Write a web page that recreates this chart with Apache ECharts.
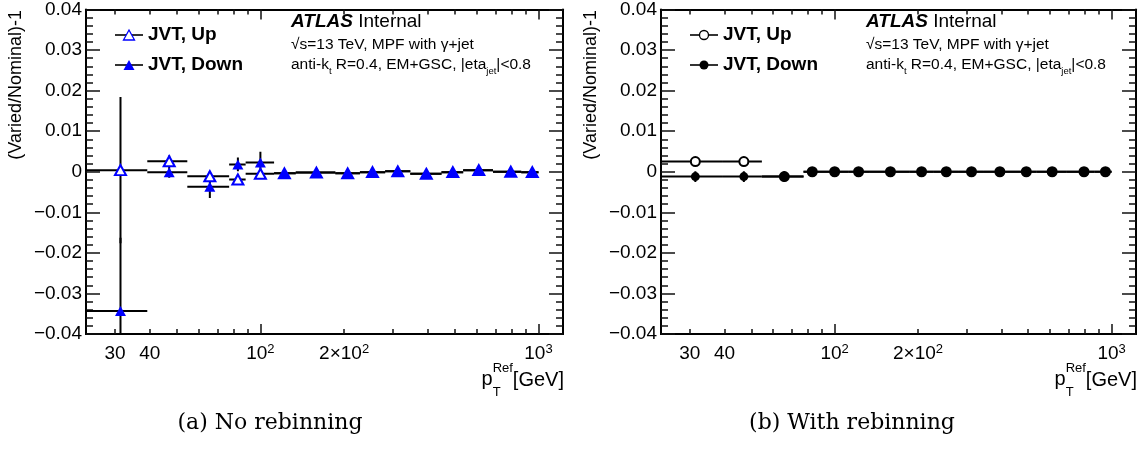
<!DOCTYPE html>
<html>
<head>
<meta charset="utf-8">
<script src="https://cdn.jsdelivr.net/npm/echarts@6/dist/echarts.min.js"></script>
<style>
  html, body { margin: 0; padding: 0; background: #fff; }
  #chart { width: 1148px; height: 449px; }
</style>
</head>
<body>
<div id="chart"></div>
<script>
// pT^Ref bins in GeV: marker position and horizontal extent of each bin
const ptMean = [31.4, 47.0, 65.8, 83.0, 100, 122, 159, 206, 253, 312, 395, 492, 610, 795, 950];
const ptLow  = [23.6, 39.2, 54.6, 77.2, 88.5, 112, 134, 186, 228, 281, 346, 448, 536, 686, 867];
const ptHigh = [39.2, 54.6, 77.2, 88.5, 112, 134, 186, 228, 281, 346, 448, 536, 686, 867, 1000];

// (a) no rebinning: (Varied/Nominal)-1 and statistical errors
const noRebinUp      = [0.0004, 0.0026, -0.0011, -0.0019, -0.0005, -0.0004, -0.0002, -0.0004, -0.0001, 0.0001, -0.0005, -0.0001, 0.0004, 0.0000, -0.0001];
const noRebinUpErr   = [0.0180, 0.0014, 0.0012, 0.0012, 0.0012, 0.0004, 0.0003, 0.0003, 0.0003, 0.0003, 0.0003, 0.0003, 0.0003, 0.0003, 0.0003];
const noRebinDown    = [-0.0343, -0.0001, -0.0037, 0.0018, 0.0023, -0.0004, -0.0002, -0.0004, -0.0001, 0.0001, -0.0005, -0.0001, 0.0004, 0.0000, -0.0001];
const noRebinDownErr = [0.0180, 0.0014, 0.0028, 0.0017, 0.0026, 0.0004, 0.0003, 0.0003, 0.0003, 0.0003, 0.0003, 0.0003, 0.0003, 0.0003, 0.0003];

// (b) with rebinning
const rebinUp      = [0.0025, 0.0025, -0.0012, 0, 0, 0, 0, 0, 0, 0, 0, 0, 0, 0, 0];
const rebinUpErr   = [0.0002, 0.0002, 0.0002, 0.0002, 0.0002, 0.0002, 0.0002, 0.0002, 0.0002, 0.0002, 0.0002, 0.0002, 0.0002, 0.0002, 0.0002];
const rebinDown    = [-0.0012, -0.0012, -0.0012, 0, 0, 0, 0, 0, 0, 0, 0, 0, 0, 0, 0];
const rebinDownErr = [0.0013, 0.0013, 0.0013, 0.0002, 0.0002, 0.0002, 0.0002, 0.0002, 0.0002, 0.0002, 0.0002, 0.0002, 0.0002, 0.0002, 0.0002];

// axis ranges and tick marks
const X_MIN = 23.6, X_MAX = 1225;
const Y_MIN = -0.04, Y_MAX = 0.04, Y_STEP = 0.01;
const majorTickPt = [100, 1000];
const minorTickPt = [30, 40, 50, 60, 70, 80, 90, 200, 300, 400, 500, 600, 700, 800, 900];
const tickLabelPt = [30, 40, 100, 200, 1000];
const tickLabelText = ['30', '40', '10{sup|2}', '2\u00d710{sup|2}', '10{sup|3}'];

const legendNames = ['JVT, Up', 'JVT, Down'];
const atlasLines = ['\u221as=13 TeV, MPF with \u03b3+jet', 'anti-k{sub|t} R=0.4, EM+GSC, |eta{sub|jet}|<0.8'];
const captions = ['(a) No rebinning', '(b) With rebinning'];

const SANS = '"Liberation Sans", Arial, Helvetica, sans-serif';
const GRID_TOP = 9, GRID_H = 325;

const panels = [
  { left: 86, width: 477, up: noRebinUp, upErr: noRebinUpErr, down: noRebinDown, downErr: noRebinDownErr,
    shape: 'triangle', color: '#0000ff', size: [11, 10], captionX: 270 },
  { left: 661, width: 475, up: rebinUp, upErr: rebinUpErr, down: rebinDown, downErr: rebinDownErr,
    shape: 'circle', color: '#000000', size: 9, captionX: 852 }
];

const lg = v => Math.log10(v);
const frameLine = { color: '#000', width: 2 };
const tickLine = { color: '#111', width: 1.5 };

function tickAxis(gi, position, length, values, withLabels) {
  const ax = {
    type: 'value', gridIndex: gi, position, min: lg(X_MIN), max: lg(X_MAX),
    axisLine: { show: true, onZero: false, lineStyle: frameLine },
    axisTick: { show: true, inside: true, length, customValues: values.map(lg), lineStyle: tickLine },
    axisLabel: { show: false },
    splitLine: { show: false }
  };
  if (withLabels) {
    ax.axisLabel = {
      show: true,
      customValues: tickLabelPt.map(lg),
      margin: 9,
      fontFamily: SANS, fontSize: 19, color: '#000', lineHeight: 22,
      formatter: v => {
        const i = tickLabelPt.findIndex(p => Math.abs(lg(p) - v) < 1e-6);
        return i >= 0 ? tickLabelText[i] : '';
      },
      rich: { sup: { fontFamily: SANS, fontSize: 13, lineHeight: 12, verticalAlign: 'top', color: '#000' } }
    };
  }
  return ax;
}

function valueAxis(gi, position, withLabels) {
  return {
    type: 'value', gridIndex: gi, position, min: Y_MIN, max: Y_MAX, interval: Y_STEP,
    axisLine: { show: true, onZero: false, lineStyle: frameLine },
    axisTick: { show: true, inside: true, length: 14, lineStyle: tickLine },
    minorTick: { show: true, splitNumber: 5, length: 7, lineStyle: tickLine },
    splitLine: { show: false },
    axisLabel: withLabels ? {
      show: true, margin: 4, fontFamily: SANS, fontSize: 19, color: '#000',
      formatter: v => Math.abs(v) < 1e-9 ? '0' : (v < 0 ? '\u2212' + Math.abs(v).toFixed(2) : v.toFixed(2))
    } : { show: false }
  };
}

function barSeries(pi, vals, errs, color, width) {
  return {
    type: 'custom', xAxisIndex: pi * 5, yAxisIndex: pi * 2, clip: true, silent: true,
    encode: { x: 0, y: 1 },
    data: ptMean.map((p, i) => [p, vals[i], ptLow[i], ptHigh[i], errs[i]]),
    renderItem(params, api) {
      const x = api.value(0), y = api.value(1), e = api.value(4);
      const a = api.coord([api.value(2), y]);
      const b = api.coord([api.value(3), y]);
      const t = api.coord([x, y + e]);
      const u = api.coord([x, y - e]);
      const style = { stroke: color, lineWidth: width };
      return {
        type: 'group',
        children: [
          { type: 'line', shape: { x1: a[0], y1: a[1], x2: b[0], y2: b[1] }, style },
          { type: 'line', shape: { x1: t[0], y1: t[1], x2: u[0], y2: u[1] }, style }
        ]
      };
    }
  };
}

function markSeries(pi, vals, symbol, size, color, hollow) {
  return {
    type: 'scatter', xAxisIndex: pi * 5, yAxisIndex: pi * 2, silent: true,
    symbol: hollow ? 'empty' + symbol[0].toUpperCase() + symbol.slice(1) : symbol,
    symbolSize: size,
    itemStyle: { color, borderColor: color, borderWidth: hollow ? 1.3 : 0, opacity: 1 },
    data: ptMean.map((p, i) => [p, vals[i]])
  };
}

const grid = [], xAxis = [], yAxis = [], series = [], graphic = [];

const measureCtx = document.createElement('canvas').getContext('2d');
function textWidth(str, font) { measureCtx.font = font; return measureCtx.measureText(str).width; }

function markerShape(shape, cx, cy, size, color, hollow) {
  const fill = hollow ? '#fff' : color;
  const style = { fill, stroke: color, lineWidth: hollow ? 1.3 : 0 };
  if (shape === 'triangle') {
    const w = size[0] / 2, h = size[1] / 2;
    return { type: 'polygon', shape: { points: [[cx - w, cy + h], [cx + w, cy + h], [cx, cy - h]] }, style, z: 10 };
  }
  return { type: 'circle', shape: { cx, cy, r: size / 2 }, style, z: 10 };
}

panels.forEach((p, pi) => {
  const L = p.left, R = p.left + p.width;
  grid.push({ left: L, top: GRID_TOP, width: p.width, height: GRID_H });

  // data axis (log pT), then tick/frame axes in log10 space
  xAxis.push({
    type: 'log', logBase: 10, gridIndex: pi, min: X_MIN, max: X_MAX, position: 'bottom',
    axisLine: { show: false }, axisTick: { show: false }, axisLabel: { show: false }, splitLine: { show: false }
  });
  xAxis.push(tickAxis(pi, 'bottom', 5, minorTickPt, false));
  xAxis.push(tickAxis(pi, 'bottom', 10, majorTickPt, true));
  xAxis.push(tickAxis(pi, 'top', 5, minorTickPt, false));
  xAxis.push(tickAxis(pi, 'top', 10, majorTickPt, false));

  yAxis.push(valueAxis(pi, 'left', true));
  yAxis.push(valueAxis(pi, 'right', false));

  series.push(barSeries(pi, p.up, p.upErr, '#000', 2));
  series.push(markSeries(pi, p.up, p.shape, p.size, p.color, true));
  series.push(barSeries(pi, p.down, p.downErr, '#000', 2));
  series.push(markSeries(pi, p.down, p.shape, p.size, p.color, false));

  // y-axis title
  graphic.push({
    type: 'text', x: L - 70, y: 10, rotation: Math.PI / 2,
    style: { text: '(Varied/Nominal)-1', font: '18px ' + SANS, fill: '#000', align: 'right', verticalAlign: 'middle' }
  });

  // x-axis title p_T^Ref [GeV]
  const bigFont = '20px ' + SANS, smallFont = '13px ' + SANS;
  const xr = R + 1;
  const wGeV = textWidth('[GeV]', bigFont);
  const wRef = textWidth('Ref', smallFont);
  graphic.push({ type: 'text', x: xr, y: 380, style: { text: '[GeV]', font: bigFont, fill: '#000', align: 'right', verticalAlign: 'middle' } });
  graphic.push({ type: 'text', x: xr - wGeV, y: 368, style: { text: 'Ref', font: smallFont, fill: '#000', align: 'right', verticalAlign: 'middle' } });
  graphic.push({ type: 'text', x: xr - wGeV - wRef, y: 392, style: { text: 'T', font: smallFont, fill: '#000', align: 'left', verticalAlign: 'middle' } });
  graphic.push({ type: 'text', x: xr - wGeV - wRef, y: 379, style: { text: 'p', font: bigFont, fill: '#000', align: 'right', verticalAlign: 'middle' } });

  // legend
  [35, 65].forEach((ly, k) => {
    graphic.push({ type: 'line', shape: { x1: L + 29, y1: ly, x2: L + 57, y2: ly }, style: { stroke: '#000', lineWidth: 1.6 }, z: 9 });
    graphic.push(markerShape(p.shape, L + 43, ly, p.size, p.color, k === 0));
    graphic.push({ type: 'text', x: L + 62, y: ly, style: { text: legendNames[k], font: 'bold 19px ' + SANS, fill: '#000', align: 'left', verticalAlign: 'middle' } });
  });

  // ATLAS label and selection text
  const tx = L + 205;
  graphic.push({
    type: 'text', x: tx, y: 21.5,
    style: {
      text: '{b|ATLAS} Internal', font: '19px ' + SANS, fill: '#000', align: 'left', verticalAlign: 'middle',
      rich: { b: { fontFamily: SANS, fontSize: 19, fontWeight: 'bold', fontStyle: 'italic', fill: '#000' } }
    }
  });
  graphic.push({
    type: 'text', x: tx, y: 45,
    style: { text: atlasLines[0], font: '15.5px ' + SANS, fill: '#000', align: 'left', verticalAlign: 'middle' }
  });
  graphic.push({
    type: 'text', x: tx, y: 65,
    style: {
      text: atlasLines[1], fontFamily: SANS, fontSize: 15.5, lineHeight: 22, fill: '#000', align: 'left', verticalAlign: 'middle',
      rich: { sub: { fontFamily: SANS, fontSize: 9.5, lineHeight: 9, verticalAlign: 'bottom', fill: '#000' } }
    }
  });

  // caption under the panel
  graphic.push({
    type: 'text', x: p.captionX, y: 423,
    style: { text: captions[pi], font: '22px "DejaVu Serif", serif', fill: '#000', align: 'center', verticalAlign: 'middle' }
  });
});

const chart = echarts.init(document.getElementById('chart'), null, { renderer: 'canvas' });
chart.setOption({
  animation: false,
  backgroundColor: '#fff',
  grid, xAxis, yAxis, series, graphic
});
</script>
</body>
</html>
